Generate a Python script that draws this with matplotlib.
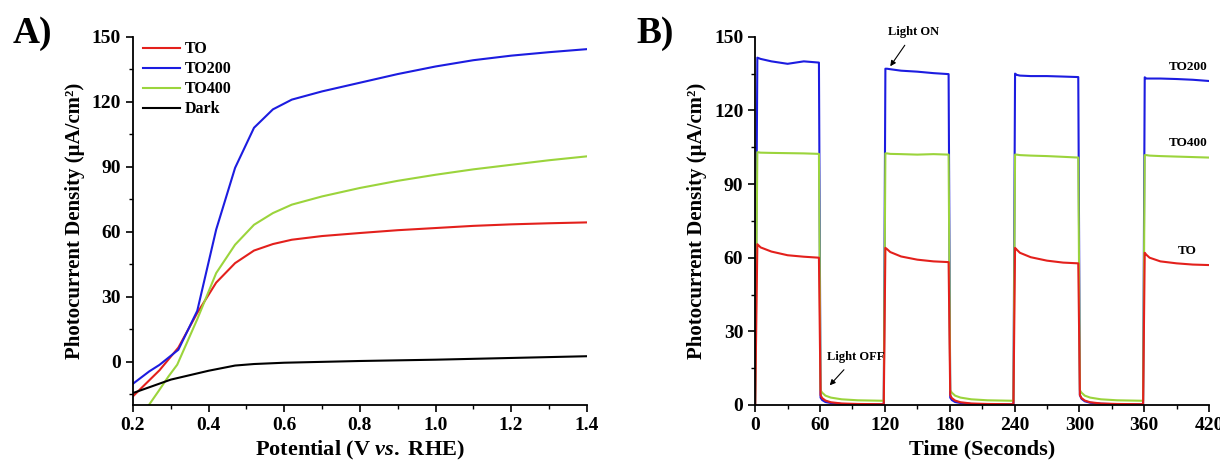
import matplotlib
matplotlib.use("Agg")
import matplotlib.pyplot as plt
from matplotlib.ticker import MultipleLocator

plt.rcParams['font.family'] = ['Liberation Serif', 'DejaVu Serif']
plt.rcParams['font.weight'] = 'bold'
plt.rcParams['mathtext.fontset'] = 'custom'
plt.rcParams['mathtext.rm'] = 'Liberation Serif:bold'
plt.rcParams['mathtext.it'] = 'Liberation Serif:bold:italic'
plt.rcParams['mathtext.bf'] = 'Liberation Serif:bold'

# ---------------- Panel A data (LSV) ----------------
pot_TO = [0.20, 0.27, 0.32, 0.37, 0.42, 0.47, 0.52, 0.57, 0.62, 0.70, 0.80, 0.90, 1.00, 1.10, 1.20, 1.30, 1.40]
cur_TO = [-16.0, -4.0, 6.5, 22.5, 36.5, 45.5, 51.3, 54.3, 56.3, 58.0, 59.4, 60.7, 61.7, 62.7, 63.4, 63.9, 64.3]

pot_TO200 = [0.20, 0.243, 0.27, 0.32, 0.37, 0.42, 0.47, 0.52, 0.57, 0.62, 0.70, 0.80, 0.90, 1.00, 1.10, 1.20, 1.30, 1.40]
cur_TO200 = [-10.2, -4.5, -1.5, 5.5, 23.5, 61.0, 89.5, 108.0, 116.5, 121.0, 124.8, 128.8, 132.8, 136.3, 139.2, 141.3, 142.9, 144.3]

pot_TO400 = [0.22, 0.243, 0.27, 0.294, 0.317, 0.37, 0.42, 0.47, 0.52, 0.57, 0.62, 0.70, 0.80, 0.90, 1.00, 1.10, 1.20, 1.30, 1.40]
cur_TO400 = [-27.0, -19.8, -13.0, -6.8, -1.4, 19.6, 40.9, 54.0, 63.2, 68.6, 72.5, 76.3, 80.2, 83.5, 86.3, 88.8, 90.9, 93.0, 94.8]

pot_dark = [0.20, 0.30, 0.40, 0.47, 0.52, 0.60, 0.80, 1.00, 1.20, 1.40]
cur_dark = [-14.5, -8.3, -4.2, -1.8, -1.1, -0.5, 0.3, 0.9, 1.7, 2.5]

# ---------------- Panel B data (chopped light) ----------------
time_s = [0, 2, 5, 15, 30, 45, 59,
          60.5, 62, 65, 70, 80, 95, 119,
          120.5, 122, 125, 135, 150, 165, 179,
          180.5, 182, 185, 190, 200, 215, 239,
          240.5, 242, 245, 255, 270, 285, 299,
          300.5, 302, 305, 310, 320, 335, 359,
          360.5, 362, 365, 375, 390, 405, 420]

j_TO200 = [0, 141.5, 141.0, 140.0, 139.0, 140.0, 139.5,
           3.0, 2.0, 1.2, 0.8, 0.4, 0.3, 0.2,
           137.0, 137.0, 136.8, 136.2, 135.8, 135.2, 134.8,
           3.0, 2.0, 1.2, 0.8, 0.4, 0.3, 0.2,
           135.0, 134.5, 134.2, 134.0, 134.0, 133.8, 133.6,
           4.0, 2.5, 1.5, 0.9, 0.5, 0.3, 0.2,
           133.5, 133.0, 133.0, 133.0, 132.8, 132.5, 132.0]

j_TO400 = [0, 103.0, 102.8, 102.7, 102.6, 102.5, 102.3,
           6.0, 5.0, 3.8, 3.0, 2.3, 1.9, 1.7,
           102.5, 102.5, 102.3, 102.2, 102.0, 102.2, 102.0,
           6.0, 5.0, 3.8, 3.0, 2.3, 1.9, 1.7,
           102.0, 102.0, 101.8, 101.6, 101.4, 101.1, 100.8,
           6.0, 5.0, 3.8, 3.0, 2.3, 1.9, 1.7,
           101.8, 101.8, 101.6, 101.4, 101.2, 101.0, 100.8]

j_TO = [0, 65.5, 64.2, 62.5, 61.0, 60.4, 60.0,
        4.0, 2.8, 1.8, 1.1, 0.6, 0.4, 0.3,
        64.0, 63.5, 62.3, 60.5, 59.2, 58.5, 58.2,
        4.0, 2.8, 1.8, 1.1, 0.6, 0.4, 0.3,
        64.0, 63.3, 62.0, 60.2, 58.8, 58.0, 57.7,
        4.0, 2.8, 1.8, 1.1, 0.6, 0.4, 0.3,
        62.0, 61.2, 60.0, 58.5, 57.7, 57.2, 57.0]

series_labels = ['TO', 'TO200', 'TO400', 'Dark']
c_red, c_blue, c_green, c_black = '#e3201c', '#1c1ce0', '#9bd43c', '#000000'

ylabel = 'Photocurrent Density (μA/cm²)'

fig = plt.figure(figsize=(12.2, 4.66), dpi=100)
axA = fig.add_axes([0.109, 0.131, 0.372, 0.790])
axB = fig.add_axes([0.619, 0.131, 0.372, 0.790])

lw = 1.5
axA.plot(pot_TO, cur_TO, color=c_red, lw=lw, label=series_labels[0])
axA.plot(pot_TO200, cur_TO200, color=c_blue, lw=lw, label=series_labels[1])
axA.plot(pot_TO400, cur_TO400, color=c_green, lw=lw, label=series_labels[2])
axA.plot(pot_dark, cur_dark, color=c_black, lw=lw, label=series_labels[3])
axA.set_xlim(0.2, 1.4)
axA.set_ylim(-20, 150)
axA.xaxis.set_major_locator(MultipleLocator(0.2))
axA.xaxis.set_minor_locator(MultipleLocator(0.1))
axA.yaxis.set_major_locator(MultipleLocator(30))
axA.yaxis.set_minor_locator(MultipleLocator(15))
axA.set_xlabel(r'Potential (V $\mathit{vs.}$ RHE)', fontsize=16, fontweight='bold')
axA.set_ylabel(ylabel, fontsize=15, fontweight='bold')
leg = axA.legend(loc='upper left', frameon=False, handlelength=2.3,
                 handletextpad=0.3, labelspacing=0.25, borderaxespad=0.1,
                 bbox_to_anchor=(0.005, 1.01),
                 prop={'weight': 'bold', 'size': 11.5})

axB.plot(time_s, j_TO200, color=c_blue, lw=lw)
axB.plot(time_s, j_TO400, color=c_green, lw=lw)
axB.plot(time_s, j_TO, color=c_red, lw=lw)
axB.set_xlim(0, 420)
axB.set_ylim(0, 150)
axB.xaxis.set_major_locator(MultipleLocator(60))
axB.xaxis.set_minor_locator(MultipleLocator(30))
axB.yaxis.set_major_locator(MultipleLocator(30))
axB.yaxis.set_minor_locator(MultipleLocator(15))
axB.set_xlabel('Time (Seconds)', fontsize=16, fontweight='bold')
axB.set_ylabel(ylabel, fontsize=15, fontweight='bold')

axB.text(401, 137.8, series_labels[1], fontsize=9.5, fontweight='bold', ha='center', va='center')
axB.text(401, 106.8, series_labels[2], fontsize=9.5, fontweight='bold', ha='center', va='center')
axB.text(400, 62.8, series_labels[0], fontsize=9.5, fontweight='bold', ha='center', va='center')

axB.annotate('Light ON', xy=(125, 138), xytext=(147, 152), fontsize=9, fontweight='bold',
             ha='center', va='center', annotation_clip=False,
             arrowprops=dict(arrowstyle='-|>', color='black', lw=0.8, mutation_scale=8,
                             shrinkA=4, shrinkB=0))
axB.annotate('Light OFF', xy=(69, 8), xytext=(93, 19.6), fontsize=9, fontweight='bold',
             ha='center', va='center',
             arrowprops=dict(arrowstyle='-|>', color='black', lw=0.8, mutation_scale=8,
                             shrinkA=4, shrinkB=0))

for ax in (axA, axB):
    ax.spines['top'].set_visible(False)
    ax.spines['right'].set_visible(False)
    ax.spines['left'].set_linewidth(1.3)
    ax.spines['bottom'].set_linewidth(1.3)
    ax.tick_params(which='major', direction='out', length=5, width=1.2, labelsize=14)
    ax.tick_params(which='minor', direction='out', length=3, width=1.0)
    for lab in ax.get_xticklabels() + ax.get_yticklabels():
        lab.set_fontweight('bold')
    ax.yaxis.labelpad = 5

fig.text(0.010, 0.965, 'A)', fontsize=27, fontweight='bold', va='top', ha='left')
fig.text(0.522, 0.965, 'B)', fontsize=27, fontweight='bold', va='top', ha='left')

fig.savefig('out.png', dpi=100)
